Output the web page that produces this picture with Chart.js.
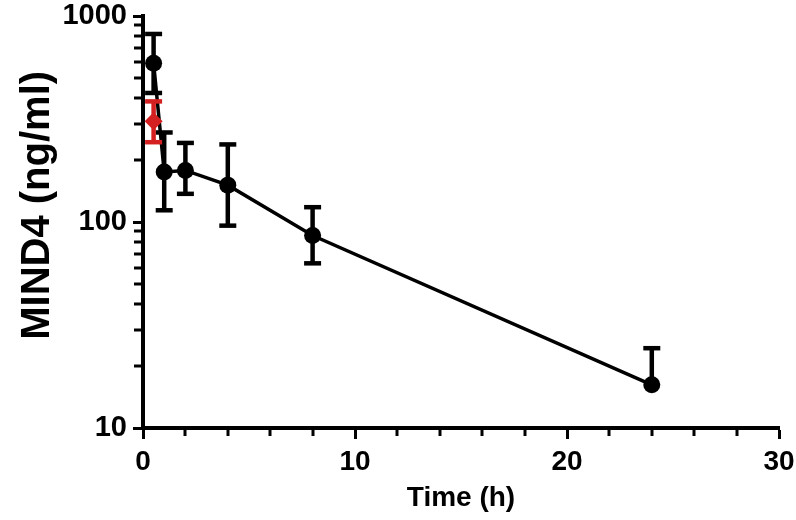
<!DOCTYPE html>
<html>
<head>
<meta charset="utf-8">
<script src="https://cdn.jsdelivr.net/npm/chart.js@4.4.1/dist/chart.umd.min.js"></script>
<style>
  html, body { margin: 0; padding: 0; background: #fff; }
  #wrap { width: 796px; height: 520px; }
</style>
</head>
<body>
<div id="wrap"><canvas id="pk"></canvas></div>
<script>
// MIND4 plasma concentration vs time
const blackTime  = [0.5, 1, 2, 4, 8, 24];
const blackMean  = [590, 175, 178, 151, 86, 16.2];
const blackUpper = [818, 272, 242, 238, 118, 24.4];
const blackLower = [423, 114, 137, 96, 63, 16.2];

const redTime  = [0.5];
const redMean  = [308];
const redUpper = [385];
const redLower = [244];

const xMajorTicks = [0, 10, 20, 30];
const xMinorTicks = [2, 4, 6, 8, 12, 14, 16, 18, 22, 24, 26, 28];
const yMajorTicks = [10, 100, 1000];
const yMinorTicks = [20, 30, 40, 50, 60, 70, 80, 90, 200, 300, 400, 500, 600, 700, 800, 900];

const FONT = "'Liberation Sans', Arial, sans-serif";

const toPoints = (xs, ys) => xs.map((x, i) => ({ x, y: ys[i] }));

// error bars drawn just before each dataset so the markers sit on top
const errorBars = {
    id: 'errorBars',
    beforeDatasetDraw(chart, args) {
        const ds = chart.data.datasets[args.index];
        if (!ds.errUpper) return;
        const xs = chart.scales.x, ys = chart.scales.y;
        const ctx = chart.ctx;
        const cap = 8.5;
        ctx.save();
        ctx.strokeStyle = ds.borderColor;
        ctx.lineWidth = 4.5;
        ctx.lineCap = 'butt';
        ds.data.forEach((p, i) => {
            const px = xs.getPixelForValue(p.x);
            const top = ys.getPixelForValue(ds.errUpper[i]);
            const bot = ys.getPixelForValue(ds.errLower[i]);
            ctx.beginPath();
            ctx.moveTo(px, top);
            ctx.lineTo(px, bot);
            ctx.stroke();
            if (ds.errUpper[i] > p.y) {
                ctx.beginPath();
                ctx.moveTo(px - cap, top);
                ctx.lineTo(px + cap, top);
                ctx.stroke();
            }
            if (ds.errLower[i] < p.y) {
                ctx.beginPath();
                ctx.moveTo(px - cap, bot);
                ctx.lineTo(px + cap, bot);
                ctx.stroke();
            }
        });
        ctx.restore();
    }
};

// short minor ticks on both axes
const minorTicks = {
    id: 'minorTicks',
    afterDraw(chart) {
        const { ctx, chartArea } = chart;
        const xs = chart.scales.x, ys = chart.scales.y;
        ctx.save();
        ctx.strokeStyle = '#000';
        ctx.lineWidth = 3;
        xMinorTicks.forEach(v => {
            const px = Math.round(xs.getPixelForValue(v));
            ctx.beginPath();
            ctx.moveTo(px, chartArea.bottom);
            ctx.lineTo(px, chartArea.bottom + 8);
            ctx.stroke();
        });
        yMinorTicks.forEach(v => {
            const py = Math.round(ys.getPixelForValue(v));
            ctx.beginPath();
            ctx.moveTo(chartArea.left, py);
            ctx.lineTo(chartArea.left - 9, py);
            ctx.stroke();
        });
        ctx.restore();
    }
};

new Chart(document.getElementById('pk'), {
    type: 'scatter',
    data: {
        datasets: [
            {
                label: 'red',
                data: toPoints(redTime, redMean),
                errUpper: redUpper,
                errLower: redLower,
                showLine: false,
                pointStyle: 'rectRot',
                pointRadius: 9,
                backgroundColor: '#d42020',
                borderColor: '#d42020',
                borderWidth: 0
            },
            {
                label: 'black',
                data: toPoints(blackTime, blackMean),
                errUpper: blackUpper,
                errLower: blackLower,
                showLine: true,
                tension: 0,
                pointStyle: 'circle',
                pointRadius: 8.5,
                backgroundColor: '#000',
                borderColor: '#000',
                borderWidth: 3.5,
                pointBorderWidth: 0
            }
        ]
    },
    options: {
        responsive: true,
        maintainAspectRatio: false,
        animation: false,
        layout: { padding: { top: 16, right: 17, left: 0, bottom: 0 } },
        plugins: {
            legend: { display: false },
            tooltip: { enabled: false }
        },
        scales: {
            x: {
                type: 'linear',
                min: 0,
                max: 30,
                afterBuildTicks: s => { s.ticks = xMajorTicks.map(v => ({ value: v })); },
                afterFit: s => { s.height = 92; s.paddingLeft = 0; s.paddingRight = 0; },
                border: { display: true, color: '#000', width: 4 },
                grid: { drawOnChartArea: false, drawTicks: true, tickLength: 11, tickWidth: 3, tickColor: '#000' },
                ticks: {
                    color: '#000',
                    padding: 6,
                    maxRotation: 0,
                    font: { family: FONT, size: 28, weight: 'bold' }
                },
                title: {
                    display: true,
                    text: 'Time (h)',
                    color: '#000',
                    padding: { top: 0, bottom: 5 },
                    font: { family: FONT, size: 28, weight: 'bold' }
                }
            },
            y: {
                type: 'logarithmic',
                min: 10,
                max: 1000,
                afterBuildTicks: s => { s.ticks = yMajorTicks.map(v => ({ value: v })); },
                afterFit: s => { s.width = 143; s.paddingTop = 0; s.paddingBottom = 0; },
                border: { display: true, color: '#000', width: 4 },
                grid: { drawOnChartArea: false, drawTicks: true, tickLength: 10, tickWidth: 3, tickColor: '#000' },
                ticks: {
                    color: '#000',
                    padding: 6,
                    callback: v => String(v),
                    font: { family: FONT, size: 29, weight: 'bold' }
                },
                title: {
                    display: true,
                    text: '   MIND4 (ng/ml)',
                    color: '#000',
                    padding: { top: 14, bottom: 0 },
                    font: { family: FONT, size: 40, weight: 'bold' }
                }
            }
        }
    },
    plugins: [errorBars, minorTicks]
});
</script>
</body>
</html>
